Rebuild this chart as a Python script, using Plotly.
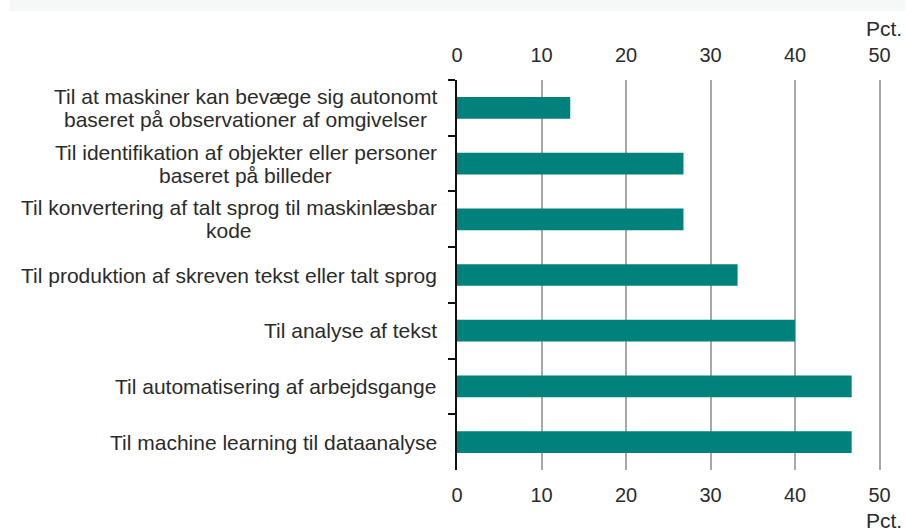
import plotly.graph_objects as go

categories = [
    "Til at maskiner kan bevæge sig autonomt<br>baseret på observationer af omgivelser",
    "Til identifikation af objekter eller personer<br>baseret på billeder",
    "Til konvertering af talt sprog til maskinlæsbar<br>kode",
    "Til produktion af skreven tekst eller talt sprog",
    "Til analyse af tekst",
    "Til automatisering af arbejdsgange",
    "Til machine learning til dataanalyse",
]
values = [13.4, 26.8, 26.8, 33.2, 40.0, 46.7, 46.7]
tick_vals = [0, 10, 20, 30, 40, 50]
unit_label = "Pct."

W, H = 906, 532
ML, MR, MT, MB = 457, 17.5, 80, 62
plot_w = W - ML - MR
plot_h = H - MT - MB

FONT = "Liberation Sans, Arial, sans-serif"
TXT = "#2b2b2b"
FS_LAB = 21
FS_TICK = 20
LINE_PITCH = 23
LABEL_GAP = 20

# Arial / Liberation Sans advance widths (per 1000 em) for measuring label lines
_W = {c: 556 for c in "abdeghnopquå0123456789"}
_W.update({"c": 500, "f": 278, "i": 222, "j": 222, "k": 500, "l": 222, "m": 833,
           "r": 333, "s": 500, "t": 278, "v": 500, "w": 722, "x": 500, "y": 500,
           "z": 500, "æ": 889, "ø": 611, "T": 611, " ": 278, ".": 278})


def text_width(s, size):
    return sum(_W.get(ch, 556) for ch in s) * size / 1000.0


fig = go.Figure()
fig.add_trace(go.Bar(
    x=values, y=categories, orientation="h",
    marker=dict(color="#00817c", line=dict(width=0)),
    width=0.39, hoverinfo="x+y", xaxis="x", yaxis="y",
))
# invisible companion trace so the top axis is drawn
fig.add_trace(go.Scatter(
    x=values, y=categories, mode="markers", marker=dict(opacity=0),
    hoverinfo="skip", xaxis="x2", yaxis="y", showlegend=False,
))

axis_common = dict(
    range=[0, 51], tickvals=tick_vals, showgrid=True, gridcolor="#a8a8a8",
    gridwidth=1.5, zeroline=False, showline=False, ticks="outside",
    tickcolor="rgba(0,0,0,0)",
    tickfont=dict(family=FONT, size=FS_TICK, color=TXT),
)

annotations = []
for c in categories:
    lines = c.split("<br>")
    n = len(lines)
    block_w = max(text_width(l, FS_LAB) for l in lines)
    for k, line in enumerate(lines):
        annotations.append(dict(
            x=0, xref="paper", y=c, yref="y", text=line, showarrow=False,
            xanchor="center", yanchor="middle",
            xshift=-LABEL_GAP - block_w / 2,
            yshift=((n - 1) / 2 - k) * LINE_PITCH,
            font=dict(family=FONT, size=FS_LAB, color=TXT),
        ))

annotations.append(dict(
    x=1, xref="paper", y=1, yref="paper", text=unit_label, showarrow=False,
    xanchor="right", yanchor="middle", xshift=16, yshift=52,
    font=dict(family=FONT, size=FS_LAB, color=TXT),
))
annotations.append(dict(
    x=1, xref="paper", y=0, yref="paper", text=unit_label, showarrow=False,
    xanchor="right", yanchor="middle", xshift=16, yshift=-50,
    font=dict(family=FONT, size=FS_LAB, color=TXT),
))

fig.update_layout(
    width=W, height=H,
    margin=dict(l=ML, r=MR, t=MT, b=MB, pad=0),
    paper_bgcolor="white", plot_bgcolor="white",
    showlegend=False,
    xaxis=dict(**axis_common, side="bottom", ticklen=7),
    xaxis2=dict(**axis_common, side="top", overlaying="x", matches="x", ticklen=9),
    yaxis=dict(
        type="category", autorange="reversed", tickson="boundaries",
        showticklabels=False, ticks="outside", ticklen=7, tickwidth=1.5,
        tickcolor="#111", showline=True, linecolor="#111", linewidth=1.5,
        showgrid=False, zeroline=False,
    ),
    annotations=annotations,
    shapes=[dict(
        type="rect", xref="paper", yref="paper",
        x0=(9 - ML) / plot_w, x1=(W - ML) / plot_w,
        y0=1 + (MT - 11) / plot_h, y1=1 + MT / plot_h,
        fillcolor="#f6f8f8", line=dict(width=0), layer="below",
    )],
    bargap=0.6,
)

fig.write_html(
    "out.html",
    config={"displayModeBar": False},
    post_script="document.body.style.margin='0';document.body.style.overflow='hidden';",
)
